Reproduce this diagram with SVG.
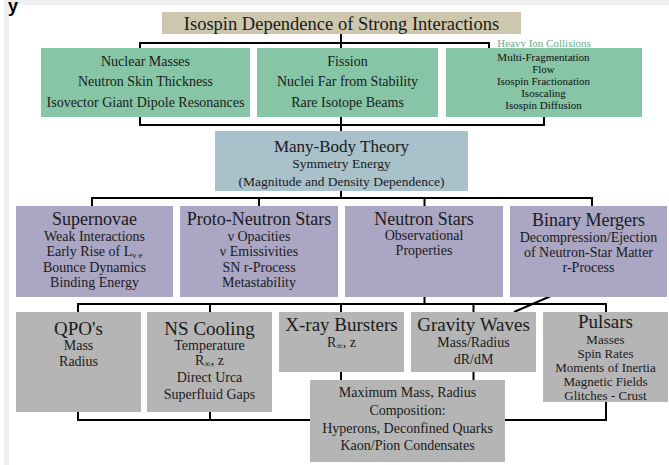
<svg xmlns="http://www.w3.org/2000/svg" width="669" height="465" viewBox="0 0 669 465">
<style>
text{font-family:"Liberation Serif","Times New Roman",serif;fill:#1a1a1a;text-anchor:middle}
.t14{font-size:14px}
.t13{font-size:13px}
.t11{font-size:11px}
.h18{font-size:18px}
.h19{font-size:19px}
.sub{font-size:9px}
.green{fill:#86c5a6}
.purple{fill:#aaa6c4}
.gray{fill:#b5b5b5}
.conn{fill:none;stroke:#000;stroke-width:2}
</style>
<rect x="0" y="0" width="669" height="465" fill="#ffffff"/>
<rect x="4" y="0" width="665" height="5" fill="#efefef"/>
<rect x="4" y="0" width="5" height="465" fill="#efefef"/>
<text x="13" y="12" style="font-family:'Liberation Sans',Arial,sans-serif;font-size:18px;font-weight:bold;fill:#000">y</text>

<g id="connectors">
<path class="conn" d="M341 34V48 M140 48V43H489V48"/>
<path class="conn" d="M140 117V125H544V117 M341 117V131"/>
<path class="conn" d="M341 191V198 M92 206V198H592V206 M259 198V206 M424.5 198V206"/>
<path class="conn" d="M424.5 297V304 M78 312V304H606V312 M210 304V312 M341 304V312 M473.5 304V312"/>
<path class="conn" d="M551 296L514 312"/>
<path class="conn" d="M341 372V380 M473.5 372V380"/>
<path class="conn" d="M78 412V420H606V402 M210 412V420"/>
</g>

<g id="title">
<rect x="162" y="12" width="359" height="22" fill="#cdc7ae"/>
<text x="341.5" y="30" style="font-size:18.5px">Isospin Dependence of Strong Interactions</text>
</g>

<g id="nuclear">
<rect x="41" y="48" width="209" height="69" class="green"/>
<text x="145.5" y="66" class="t14">Nuclear Masses</text>
<text x="145.5" y="86" class="t14">Neutron Skin Thickness</text>
<text x="145.5" y="107" class="t14">Isovector Giant Dipole Resonances</text>
</g>

<g id="fission">
<rect x="257" y="48" width="181" height="69" class="green"/>
<text x="347.5" y="66" class="t14">Fission</text>
<text x="347.5" y="86" class="t14">Nuclei Far from Stability</text>
<text x="347.5" y="107" class="t14">Rare Isotope Beams</text>
</g>

<g id="heavyion">
<text x="544" y="47" class="t11" style="fill:#5fae8e">Heavy Ion Collisions</text>
<rect x="446" y="48" width="196" height="69" class="green"/>
<text x="543.5" y="61" class="t11" style="fill:#111">Multi-Fragmentation</text>
<text x="543.5" y="73" class="t11" style="fill:#111">Flow</text>
<text x="543.5" y="85" class="t11" style="fill:#111">Isospin Fractionation</text>
<text x="543.5" y="97" class="t11" style="fill:#111">Isoscaling</text>
<text x="543.5" y="109" class="t11" style="fill:#111">Isospin Diffusion</text>
</g>

<g id="manybody">
<rect x="215" y="131" width="253" height="60" fill="#a9c1cb"/>
<text x="341.5" y="152" style="font-size:17px">Many-Body Theory</text>
<text x="341.5" y="168" style="font-size:13.5px">Symmetry Energy</text>
<text x="341.5" y="186" style="font-size:13.5px">(Magnitude and Density Dependence)</text>
</g>

<g id="supernovae">
<rect x="16" y="206" width="157" height="91" class="purple"/>
<text x="94.5" y="225" class="h18">Supernovae</text>
<text x="94.5" y="241" class="t14">Weak Interactions</text>
<text x="94.5" y="256" class="t14">Early Rise of L<tspan class="sub" dy="2">ν e</tspan></text>
<text x="94.5" y="272" class="t14">Bounce Dynamics</text>
<text x="94.5" y="287" class="t14">Binding Energy</text>
</g>

<g id="protons">
<rect x="180" y="206" width="158" height="91" class="purple"/>
<text x="259" y="225" class="h18">Proto-Neutron Stars</text>
<text x="259" y="241" class="t14">ν Opacities</text>
<text x="259" y="256" class="t14">ν Emissivities</text>
<text x="259" y="272" class="t14">SN r-Process</text>
<text x="259" y="287" class="t14">Metastability</text>
</g>

<g id="neutronstars">
<rect x="345" y="206" width="158" height="91" class="purple"/>
<text x="424" y="225" class="h18">Neutron Stars</text>
<text x="424" y="240" class="t14">Observational</text>
<text x="424" y="255" class="t14">Properties</text>
</g>

<g id="binary">
<rect x="510" y="206" width="157" height="91" class="purple"/>
<text x="588.5" y="226" class="h18">Binary Mergers</text>
<text x="588.5" y="242" class="t14">Decompression/Ejection</text>
<text x="588.5" y="257" class="t14">of Neutron-Star Matter</text>
<text x="588.5" y="272" class="t14">r-Process</text>
</g>

<g id="qpo">
<rect x="16" y="312" width="125" height="100" class="gray"/>
<text x="78.5" y="335" class="h19">QPO's</text>
<text x="78.5" y="350" class="t14">Mass</text>
<text x="78.5" y="366" class="t14">Radius</text>
</g>

<g id="nscooling">
<rect x="147" y="312" width="125" height="100" class="gray"/>
<text x="209.5" y="335" class="h19">NS Cooling</text>
<text x="209.5" y="350" class="t14">Temperature</text>
<text x="209.5" y="365" class="t14">R<tspan class="sub" dy="2">∞</tspan><tspan dy="-2">, z</tspan></text>
<text x="209.5" y="382" class="t14">Direct Urca</text>
<text x="209.5" y="399" class="t14">Superfluid Gaps</text>
</g>

<g id="xray">
<rect x="279" y="312" width="125" height="60" class="gray"/>
<text x="341.5" y="331" class="h19">X-ray Bursters</text>
<text x="341.5" y="347" class="t14">R<tspan class="sub" dy="2">∞</tspan><tspan dy="-2">, z</tspan></text>
</g>

<g id="gravity">
<rect x="411" y="312" width="125" height="60" class="gray"/>
<text x="473.5" y="331" class="h19">Gravity Waves</text>
<text x="473.5" y="347" class="t14">Mass/Radius</text>
<text x="473.5" y="364" class="t14">dR/dM</text>
</g>

<g id="pulsars">
<rect x="543" y="312" width="125" height="90" class="gray"/>
<text x="605.5" y="328" class="h19">Pulsars</text>
<text x="605.5" y="344" class="t13">Masses</text>
<text x="605.5" y="358" class="t13">Spin Rates</text>
<text x="605.5" y="372" class="t13">Moments of Inertia</text>
<text x="605.5" y="386" class="t13">Magnetic Fields</text>
<text x="605.5" y="400" class="t13">Glitches - Crust</text>
</g>

<g id="maxmass">
<rect x="310" y="380" width="195" height="82" class="gray"/>
<text x="407.5" y="397" class="t14">Maximum Mass, Radius</text>
<text x="407.5" y="415" class="t14">Composition:</text>
<text x="407.5" y="433" class="t14">Hyperons, Deconfined Quarks</text>
<text x="407.5" y="450" class="t14">Kaon/Pion Condensates</text>
</g>
</svg>
